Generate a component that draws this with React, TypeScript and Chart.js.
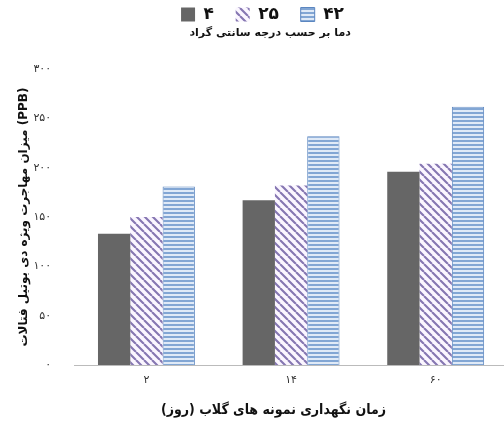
import React, { useEffect, useRef } from "react";
import { Chart, registerables } from "chart.js";

Chart.register(...registerables);

const categories = ["۲", "۱۴", "۶۰"];
const seriesNames = ["۴", "۲۵", "۴۲"];
const values4 = [133, 167, 196];
const values25 = [150, 182, 204];
const values42 = [181, 232, 262];
const yTickLabels: Record<number, string> = {
  0: "۰",
  50: "۵۰",
  100: "۱۰۰",
  150: "۱۵۰",
  200: "۲۰۰",
  250: "۲۵۰",
  300: "۳۰۰",
};

const FONT = "'DejaVu Sans', sans-serif";
const FONT_C = "'DejaVu Sans Condensed', 'DejaVu Sans', sans-serif";
const NBSP = "\u00A0\u00A0\u00A0";
const lead = (n: number) => "\u00A0".repeat(n);

function diagPattern(): CanvasPattern | string {
  const c = document.createElement("canvas");
  const s = 8;
  c.width = s;
  c.height = s;
  const ctx = c.getContext("2d");
  if (!ctx) return "#8070a8";
  ctx.fillStyle = "#fbf6ff";
  ctx.fillRect(0, 0, s, s);
  ctx.strokeStyle = "#8677b2";
  ctx.lineWidth = 2.1;
  ctx.beginPath();
  for (let k = -1; k <= 1; k++) {
    ctx.moveTo(k * s, 0);
    ctx.lineTo(k * s + s, s);
  }
  ctx.stroke();
  return ctx.createPattern(c, "repeat") as CanvasPattern;
}

function horizPattern(): CanvasPattern | string {
  const c = document.createElement("canvas");
  c.width = 4;
  c.height = 4;
  const ctx = c.getContext("2d");
  if (!ctx) return "#9fbde3";
  ctx.fillStyle = "#e0eaf7";
  ctx.fillRect(0, 0, 4, 4);
  ctx.fillStyle = "#82a6d4";
  ctx.fillRect(0, 0, 4, 2);
  return ctx.createPattern(c, "repeat") as CanvasPattern;
}

export default function App() {
  const ref = useRef<HTMLCanvasElement>(null);
  useEffect(() => {
    if (!ref.current) return;
    const chart = new Chart(ref.current, {
      type: "bar",
      data: {
        labels: categories,
        datasets: [
          {
            label: seriesNames[0],
            data: values4,
            backgroundColor: "#666666",
            borderWidth: 0,
          },
          {
            label: seriesNames[1],
            data: values25,
            backgroundColor: diagPattern(),
            borderWidth: 0,
          },
          {
            label: seriesNames[2],
            data: values42,
            backgroundColor: horizPattern(),
            borderColor: "#5b86c0",
            borderWidth: 1,
          },
        ],
      },
      options: {
        animation: false,
        responsive: false,
        maintainAspectRatio: false,
        layout: { padding: { left: 17, right: 32, top: 2, bottom: 7 } },
        datasets: {
          bar: { barPercentage: 1, categoryPercentage: 0.67 },
        },
        plugins: {
          legend: {
            position: "top",
            labels: {
              font: { family: FONT, size: 17, weight: "bold" },
              color: "#111",
              boxWidth: 14,
              boxHeight: 14,
              padding: 4,
              generateLabels: (ch: any) => {
                const items = Chart.defaults.plugins.legend.labels.generateLabels(ch);
                return items.map((it: any, i: number) =>
                  i < items.length - 1 ? { ...it, text: it.text + NBSP } : it
                );
              },
            },
          },
          title: {
            display: true,
            text: lead(4) + "دما بر حسب درجه سانتی گراد",
            weight: 500,
            font: { family: FONT, size: 11, weight: "bold" },
            color: "#111",
            padding: { top: -6, bottom: 29 },
          } as any,
          subtitle: {
            display: true,
            position: "bottom",
            text: lead(5) + "زمان نگهداری نمونه های گلاب (روز)",
            font: { family: FONT_C, size: 14, weight: "bold" },
            color: "#111",
            padding: { top: 14, bottom: 0 },
          } as any,
          tooltip: { enabled: false },
        },
        scales: {
          x: {
            grid: { display: false },
            border: { display: true, color: "#bbbbbb", width: 1 },
            ticks: {
              font: { family: FONT, size: 11 },
              color: "#333",
              padding: 1,
            },
          },
          y: {
            min: 0,
            max: 300,
            grid: { display: false, tickLength: 21 },
            border: { display: false },
            ticks: {
              stepSize: 50,
              font: { family: FONT, size: 11 },
              color: "#333",
              padding: 2,
              callback: (v: any) => yTickLabels[Number(v)] ?? String(v),
            },
            title: {
              display: true,
              text: "میزان مهاجرت ویژه دی بوتیل فتالات (PPB)",
              font: { family: FONT, size: 12, weight: "bold" },
              color: "#111",
              padding: { top: 0, bottom: 0 },
            },
          },
        },
      },
    });
    return () => chart.destroy();
  }, []);
  return (
    <div style={{ position: "absolute", left: 0, top: 0, width: 504, height: 426, overflow: "hidden", background: "#fff" }}>
      <canvas ref={ref} width={540} height={426} style={{ width: 540, height: 426, display: "block" }} />
    </div>
  );
}
